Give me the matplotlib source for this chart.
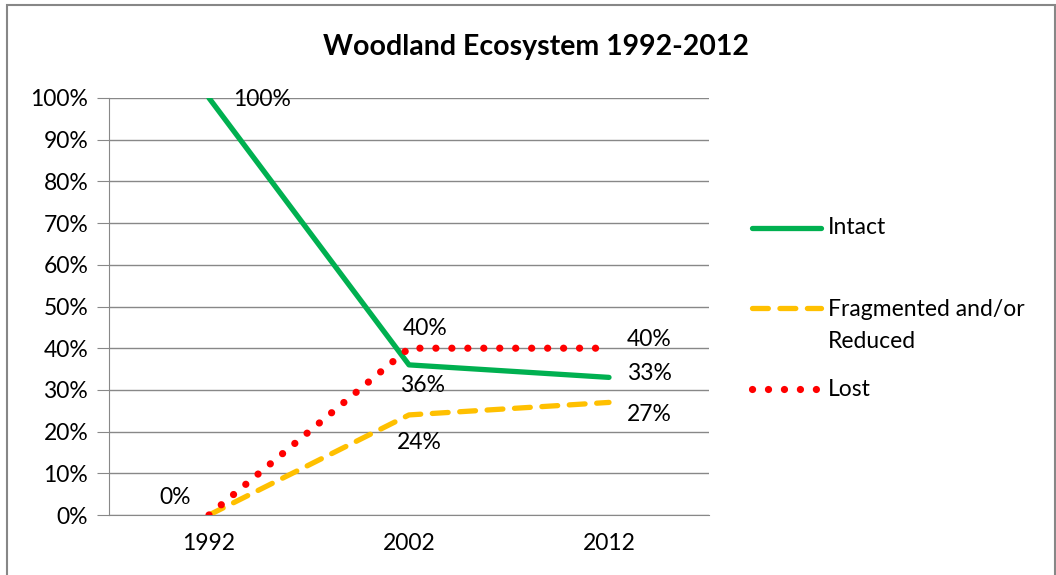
import matplotlib
matplotlib.use("Agg")
import matplotlib.pyplot as plt
from matplotlib.patches import Rectangle
from matplotlib.lines import Line2D

years = ["1992", "2002", "2012"]
intact = [100, 36, 33]
fragmented = [0, 24, 27]
lost = [0, 40, 40]
yticks = [0, 10, 20, 30, 40, 50, 60, 70, 80, 90, 100]
series_names = ["Intact", "Fragmented and/or", "Reduced", "Lost"]

plt.rcParams['font.family'] = ['Lato', 'DejaVu Sans']

W, H = 1056, 575
fig = plt.figure(figsize=(W/100, H/100), dpi=100)
ax = fig.add_axes([109/W, 1-515/H, 600/W, (515-98)/H])

# outer border
fig.patches.append(Rectangle((7/W, -0.1), (1055-7)/W, 1.1-5/H, transform=fig.transFigure,
                             fill=False, edgecolor='#878787', linewidth=1.5))

green, yellow, red = '#00B050', '#FFC000', '#FF0000'
st_int = dict(color=green, lw=3.8, solid_capstyle='round')
st_frag = dict(color=yellow, lw=3.8, linestyle=(0, (3.0, 2.2)), dash_capstyle='round')
st_lost = dict(color=red, lw=5.2, linestyle=(0, (0.01, 2.2)), dash_capstyle='round')

x = list(range(len(years)))
ax.plot(x, intact, zorder=3, **st_int)
ax.plot(x, fragmented, zorder=4, **st_frag)
ax.plot(x, lost, zorder=5, **st_lost)

ax.set_xlim(-0.5, 2.5)
ax.set_ylim(0, 100)
ax.set_yticks(yticks)
ax.set_yticklabels([f"{v}%" for v in yticks])
ax.set_xticks(x)
ax.set_xticklabels(years)
ax.grid(axis='y', color='#888888', lw=1)
ax.set_axisbelow(True)
for s in ['top', 'right']:
    ax.spines[s].set_visible(False)
ax.spines['left'].set_color('#888888')
ax.spines['bottom'].set_color('#888888')
fs = 16.5
ax.tick_params(axis='y', length=9, color='#888888', labelsize=fs, pad=6)
ax.tick_params(axis='x', length=0, labelsize=fs, pad=13)

def lab(xi, yi, txt, dx, dy, ha='left'):
    ax.annotate(txt, (xi, yi), xytext=(dx, dy), textcoords='offset pixels',
                ha=ha, va='center', fontsize=fs)

lab(0, intact[0], f"{intact[0]}%", 24, -2)
lab(0, lost[0], f"{lost[0]}%", -18, 18, ha='right')
lab(1, lost[1], f"{lost[1]}%", -6, 20)
lab(1, intact[1], f"{intact[1]}%", -9, -21)
lab(1, fragmented[1], f"{fragmented[1]}%", -12, -28)
lab(2, lost[2], f"{lost[2]}%", 18, 9)
lab(2, intact[2], f"{intact[2]}%", 18, 4)
lab(2, fragmented[2], f"{fragmented[2]}%", 18, -12)

fig.text(536/W, 1-47/H, "Woodland Ecosystem 1992-2012", ha='center', va='center',
         fontsize=20.5, fontweight='bold')

# legend drawn manually
leg_line_y = [228, 308, 389]
leg_text_y = [228, 310, 341, 389]
for (st, yy) in zip([st_int, st_frag, st_lost], leg_line_y):
    fig.add_artist(Line2D([752/W, 821/W], [1-yy/H, 1-yy/H], transform=fig.transFigure, **st))
for name, yy in zip(series_names, leg_text_y):
    fig.text(828/W, 1-yy/H, name, ha='left', va='center', fontsize=fs)

fig.savefig("out.png", dpi=100)
